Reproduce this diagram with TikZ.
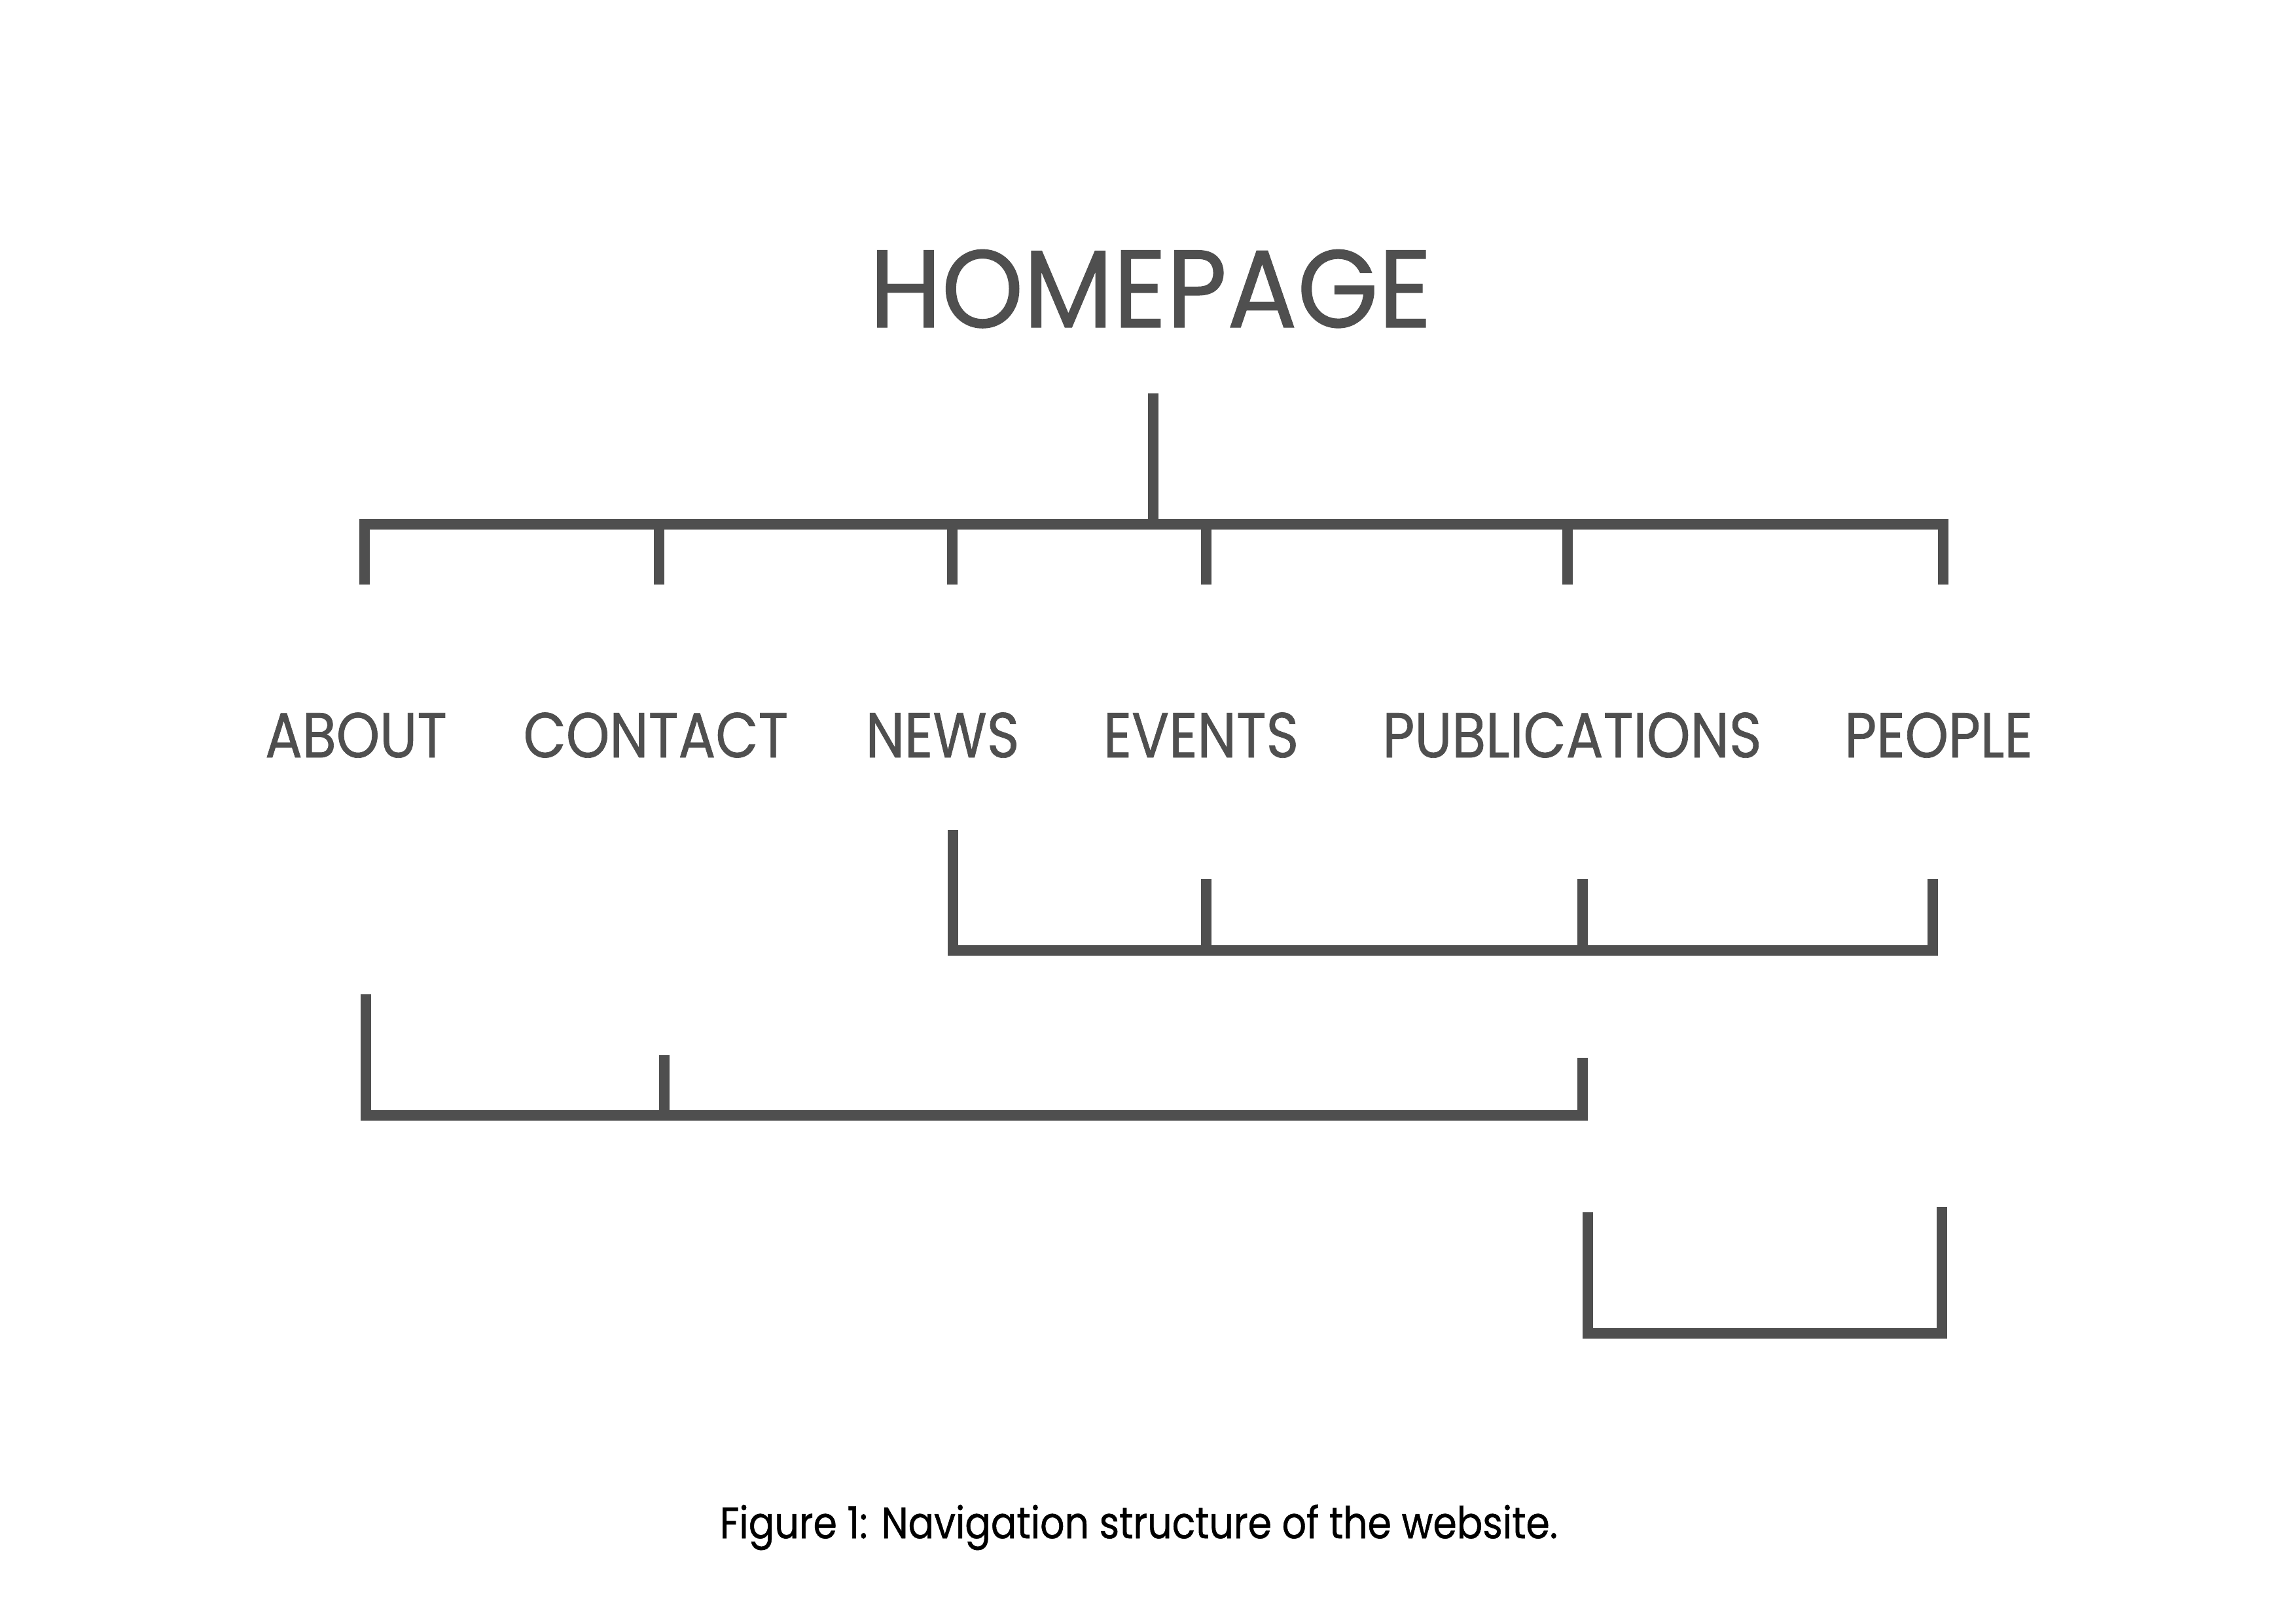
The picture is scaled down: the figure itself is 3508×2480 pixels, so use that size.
\documentclass[tikz,border=0pt]{standalone}
\usepackage{fontspec}
\setmainfont[FakeStretch=0.87, FakeBold=0.7]{Poppins}
\newfontfamily\homefont[FakeStretch=0.945, FakeBold=0.7]{Poppins}
\usepackage{tikz}
\usetikzlibrary{positioning}
\definecolor{navgrey}{HTML}{4F4F4F}
\tikzstyle{Bar} = [
line width=0.14cm,
draw=navgrey,
line join=miter,
line cap=butt
]
\tikzstyle{Page} = [
text=navgrey,
inner sep=0pt,
anchor=base,
font=\fontsize{23.4}{28}\selectfont
]

\begin{document}
\begin{tikzpicture}[x=0.008466cm, y=-0.008466cm]
            \useasboundingbox (0,0) rectangle (3508,2480);
            \node [Page, font=\homefont\fontsize{40.6}{48}\selectfont] (0) at (1758,500) {HOMEPAGE};
            \node [Page] (1) at (544,1157) {ABOUT};
            \node [Page] (2) at (1002,1157) {CONTACT};
            \node [Page] (3) at (1440,1157) {NEWS};
            \node [Page] (4) at (1835,1157) {EVENTS};
            \node [Page] (5) at (2402,1157) {PUBLICATIONS};
            \node [Page] (6) at (2962,1157) {PEOPLE};
            \node [inner sep=0pt, anchor=base, font=\fontsize{16.2}{20}\selectfont] (7) at (1740,2350) {Figure 1: Navigation structure of the website.};

            % main tree
            \coordinate (s) at (1762,601);
            \coordinate (j) at (1762,801);
            \foreach \n/\x in {1/557,2/1007,3/1455,4/1843,5/2395,6/2969} {
                \coordinate (h\n) at (\x,801);
                \coordinate (f\n) at (\x,893);
            }
            \draw[Bar] (s) -- (j);
            \draw[Bar] (f1) -- (h1) -- (h6) -- (f6);
            \foreach \n in {2,...,5}
                \draw[Bar] (h\n) -- (f\n);

            % news group
            \coordinate (n0) at (1456,1268);
            \coordinate (n1) at (1456,1452);
            \coordinate (n2) at (2953,1452);
            \coordinate (n3) at (2953,1343);
            \coordinate (n4) at (1843,1343);
            \coordinate (n5) at (1843,1452);
            \coordinate (n6) at (2418,1343);
            \coordinate (n7) at (2418,1452);
            \draw[Bar] (n0) -- (n1) -- (n2) -- (n3);
            \draw[Bar] (n4) -- (n5);
            \draw[Bar] (n6) -- (n7);

            % about group
            \coordinate (a0) at (559,1519);
            \coordinate (a1) at (559,1704);
            \coordinate (a2) at (2418,1704);
            \coordinate (a3) at (2418,1616);
            \coordinate (a4) at (1015,1612);
            \coordinate (a5) at (1015,1704);
            \draw[Bar] (a0) -- (a1) -- (a2) -- (a3);
            \draw[Bar] (a4) -- (a5);

            % publications group
            \coordinate (p0) at (2426,1852);
            \coordinate (p1) at (2426,2037);
            \coordinate (p2) at (2967,2037);
            \coordinate (p3) at (2967,1844);
            \draw[Bar] (p0) -- (p1) -- (p2) -- (p3);
        \end{tikzpicture}
\end{document}
